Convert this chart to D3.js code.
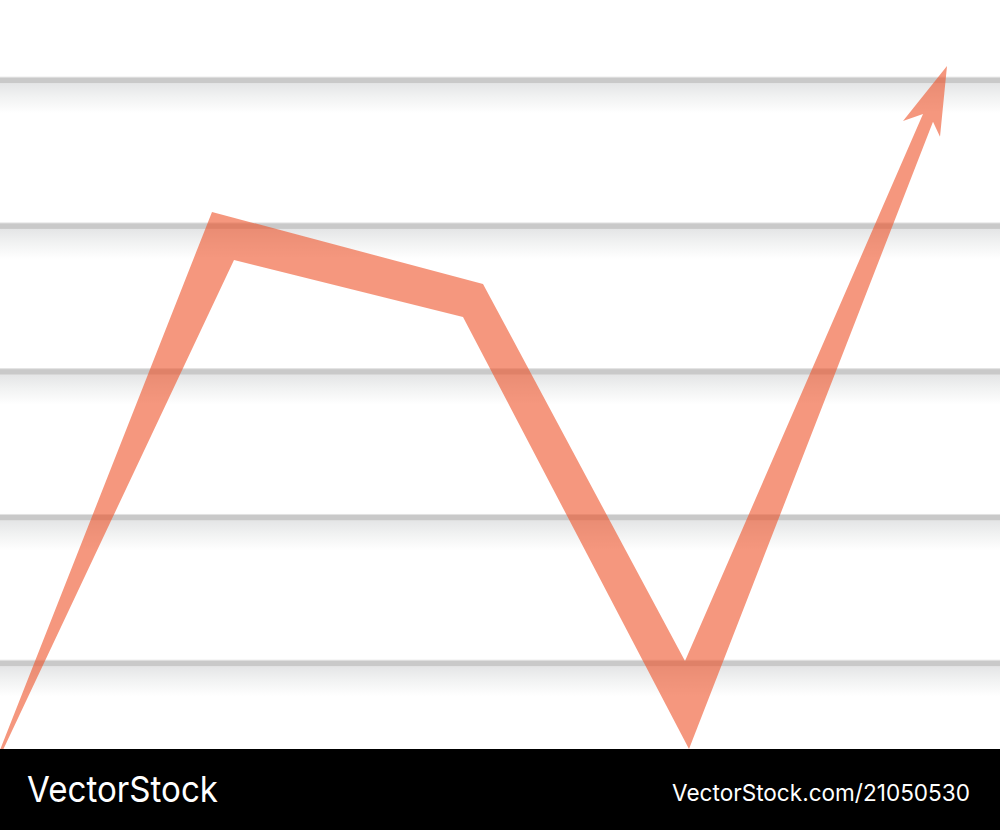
<!DOCTYPE html>
<html>
<head>
<meta charset="utf-8">
<script src="https://cdn.jsdelivr.net/npm/d3@7/dist/d3.min.js"></script>
<style>
html,body{margin:0;padding:0;background:#fff;}
svg{display:block;}
</style>
</head>
<body>
<svg id="chart" width="1000" height="830"></svg>
<script>
// ---- data ----
const gridLevels = [1, 2, 3, 4, 5];
// arrow outline (x in 0..10, y in value units): upper edge left→right
const upperX = [0.00, 2.12, 4.83, 6.85, 9.23, 9.03, 9.47];
const upperV = [0.405, 4.096, 3.602, 1.015, 4.768, 4.720, 5.098];
// lower edge right→left
const lowerX = [9.40, 9.33, 6.89, 4.63, 2.34, 0.03];
const lowerV = [4.611, 4.714, 0.412, 3.376, 3.767, 0.405];
const brandText = "VectorStock";
const idText = "VectorStock.com/21050530";

const W = 1000, H = 830;
const svg = d3.select("#chart");
const x = d3.scaleLinear().domain([0, 10]).range([0, 1000]);
const y = d3.scaleLinear().domain([0, 5.55]).range([809, 0]);

const defs = svg.append("defs");
const g = defs.append("linearGradient").attr("id", "shade")
  .attr("x1", 0).attr("y1", 0).attr("x2", 0).attr("y2", 1);
g.append("stop").attr("offset", "0%").attr("stop-color", "#e4e5e6");
g.append("stop").attr("offset", "45%").attr("stop-color", "#f1f2f2");
g.append("stop").attr("offset", "100%").attr("stop-color", "#ffffff");

svg.append("rect").attr("width", W).attr("height", H).attr("fill", "#fff");

const grid = svg.append("g").selectAll("g").data(gridLevels).join("g");
grid.append("rect")
  .attr("x", 0).attr("width", W)
  .attr("y", d => y(d) + 3).attr("height", 30)
  .attr("fill", "url(#shade)");
grid.append("rect")
  .attr("x", 0).attr("width", W)
  .attr("y", d => y(d) - 3).attr("height", 6)
  .attr("fill", "#c9c9c9");
grid.append("rect")
  .attr("x", 0).attr("width", W)
  .attr("y", d => y(d) - 3.5).attr("height", 1)
  .attr("fill", "#e2e2e2");

const pts = upperX.map((d, i) => [x(d), y(upperV[i])])
  .concat(lowerX.map((d, i) => [x(d), y(lowerV[i])]));
svg.append("path")
  .attr("d", d3.line()(pts) + "Z")
  .attr("fill", "rgb(238,82,40)")
  .attr("fill-opacity", 0.6);

svg.append("rect").attr("x", 0).attr("y", 749).attr("width", W).attr("height", 81).attr("fill", "#000");
svg.append("text").text(brandText)
  .attr("x", 27).attr("y", 802)
  .attr("font-family", "Inter, 'Liberation Sans', Arial, sans-serif")
  .attr("font-size", 36).attr("fill", "#fff")
  .attr("textLength", 191).attr("lengthAdjust", "spacingAndGlyphs");
svg.append("text").text(idText)
  .attr("x", 672).attr("y", 801)
  .attr("font-family", "Inter, 'Liberation Sans', Arial, sans-serif")
  .attr("font-size", 23).attr("fill", "#fff")
  .attr("textLength", 298).attr("lengthAdjust", "spacingAndGlyphs");
</script>
</body>
</html>
